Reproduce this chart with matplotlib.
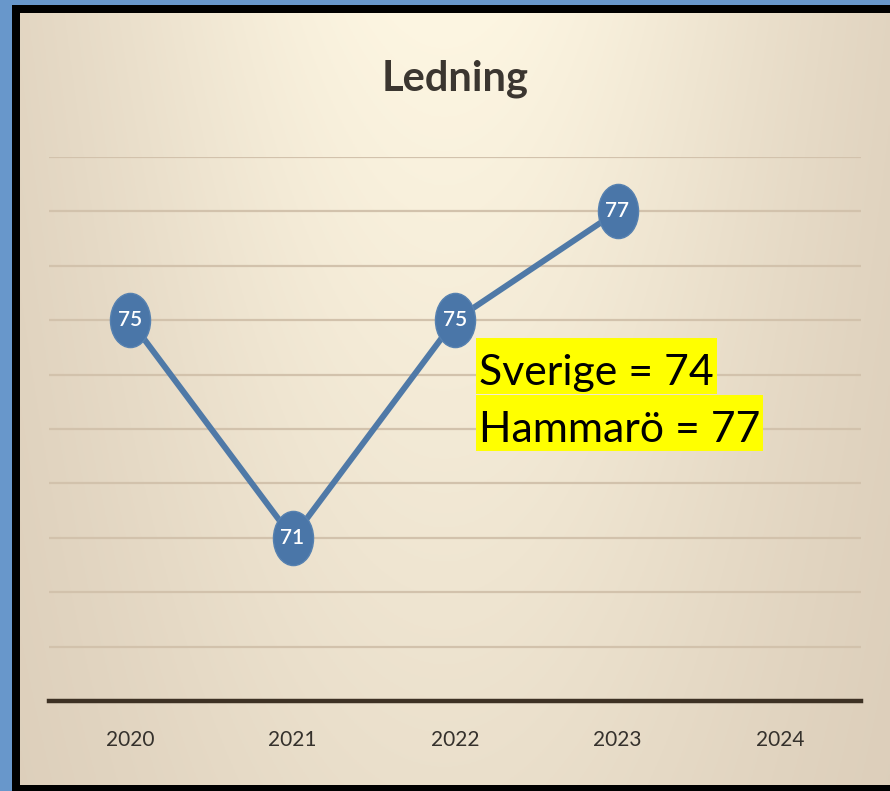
import numpy as np
import matplotlib.pyplot as plt
from matplotlib.path import Path
from matplotlib.patches import Rectangle
import matplotlib.transforms as mtransforms

years = ["2020", "2021", "2022", "2023", "2024"]
values = [75, 71, 75, 77]
title = "Ledning"
note_lines = ["Sverige = 74", "Hammarö = 77"]

W, H = 890, 791
fig = plt.figure(figsize=(W / 100, H / 100), dpi=100)

# full-figure backdrop in pixel units: blue edge, black frame, beige gradient
bg = fig.add_axes([0, 0, 1, 1], zorder=0)
bg.set_xlim(0, W)
bg.set_ylim(H, 0)
bg.axis("off")
bg.add_patch(Rectangle((0, 0), W, H, facecolor="#6897cb", edgecolor="none"))
bg.add_patch(Rectangle((12, 5), W, H, facecolor="black", edgecolor="none"))
gx = np.linspace(-1, 1.05, 400)
gy = np.linspace(0, 1, 300)
X, Y = np.meshgrid(gx, gy)
shade = np.exp(-(X * 1.1) ** 2) * (1 - 0.5 * Y)
light = np.array([0xfd, 0xf6, 0xe2]) / 255
dark = np.array([0xd8, 0xc9, 0xb5]) / 255
img = dark + (light - dark) * shade[..., None]
bg.imshow(img, aspect="auto", extent=[20, W, 785, 13], origin="upper", zorder=1)
bg.set_xlim(0, W)
bg.set_ylim(H, 0)

# chart axes
ax = fig.add_axes([48.75 / W, 90 / H, 812.5 / W, 544 / H], zorder=1)
ax.patch.set_alpha(0)
ax.set_xlim(-0.5, 4.5)
ax.set_ylim(68, 78)
for s in ax.spines.values():
    s.set_visible(False)
for yv in range(69, 79):
    ax.axhline(yv, color="#d2c2ac", lw=1.6, zorder=1)
ax.axhline(68, color="#3d3124", lw=3.2, zorder=2, clip_on=False)

font = ["Lato", "DejaVu Sans"]
ax.set_xticks(range(len(years)))
ax.set_xticklabels(years, fontsize=15, color="#35312c", family=font)
ax.tick_params(axis="x", length=0, pad=21)
ax.set_yticks([])

ell = Path.unit_circle().transformed(mtransforms.Affine2D().scale(0.74, 1.0))
xs = list(range(len(values)))
ax.plot(xs, values, color="#4f79a7", lw=4.3, zorder=3, solid_capstyle="round")
ax.plot(xs, values, linestyle="none", marker=ell, markersize=39,
        markerfacecolor="#4a76a8", markeredgecolor="#5681b0", markeredgewidth=1, zorder=4)
for x, v in zip(xs, values):
    ax.text(x, v, str(v), ha="center", va="center", color="white", fontsize=15,
            fontweight="semibold", family=font, zorder=5)

fig.text(455 / W, 1 - 79 / H, title, ha="center", va="center", fontsize=30,
         fontweight="bold", color="#3b3630", family=font, zorder=3)

# highlighted note, one yellow band per line
fig.canvas.draw()
inv = fig.transFigure.inverted()
for i, line in enumerate(note_lines):
    t = fig.text(479 / W, 1 - (373 + 57 * i) / H, line, ha="left", va="center",
                 fontsize=30.8, color="black", family=font, zorder=6)
    bb = t.get_window_extent(renderer=fig.canvas.get_renderer())
    (x0, y0), (x1, y1) = inv.transform([(bb.x0 - 3, bb.y0 - 2), (bb.x1 + 3, bb.y1 + 16)])
    fig.patches.append(Rectangle((x0, y0), x1 - x0, y1 - y0, transform=fig.transFigure,
                                 facecolor="#ffff00", edgecolor="none", zorder=5.5))

fig.savefig("out.png", dpi=100)
